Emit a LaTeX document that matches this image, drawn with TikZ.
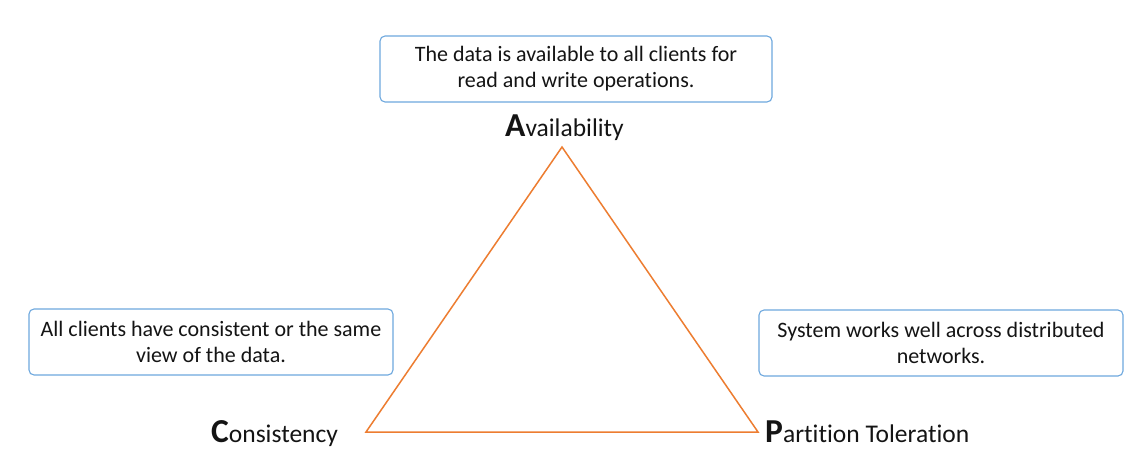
\documentclass[tikz,border=0pt]{standalone}
\usepackage{fontspec}
\setmainfont[Ligatures={NoCommon}]{Carlito}
\definecolor{tri}{RGB}{237,125,49}
\definecolor{boxb}{RGB}{110,168,222}
\definecolor{txt}{RGB}{20,20,20}
\begin{document}
\begin{tikzpicture}[x=1pt,y=-1pt,
  desc/.style={draw=boxb,line width=1.1pt,rounded corners=5pt,fill=white,
    minimum width=#1,minimum height=66pt,align=center,text=txt,
    font=\fontsize{22}{26}\selectfont,inner sep=0pt},
  lbl/.style={text=txt,inner sep=0pt,anchor=base west,font=\fontsize{25.5}{28}\selectfont},
]
\useasboundingbox (0,0) rectangle (1142,476);
\fill[white] (0,0) rectangle (1142,476);
\node[desc=392pt] (da) at (576,69) {The data is available to all clients for\\read and write operations.};
\node[desc=364pt] (dc) at (211,342) {All clients have consistent or the same\\view of the data.};
\node[desc=364pt] (dp) at (941,343) {System works well across distributed\\networks.};
\coordinate (A) at (562,147);
\coordinate (C) at (366,432);
\coordinate (P) at (758,432);
\draw[tri,line width=1.5pt,line join=miter] (A) -- (C) -- (P) -- cycle;
\node[lbl] (la) at (505,136) {{\fontsize{33.5}{34}\selectfont\bfseries A}vailability};
\node[lbl] (lc) at (211,442) {{\fontsize{33.5}{34}\selectfont\bfseries C}onsistency};
\node[lbl] (lp) at (765,442) {{\fontsize{33.5}{34}\selectfont\bfseries P}artition Toleration};
\end{tikzpicture}
\end{document}
